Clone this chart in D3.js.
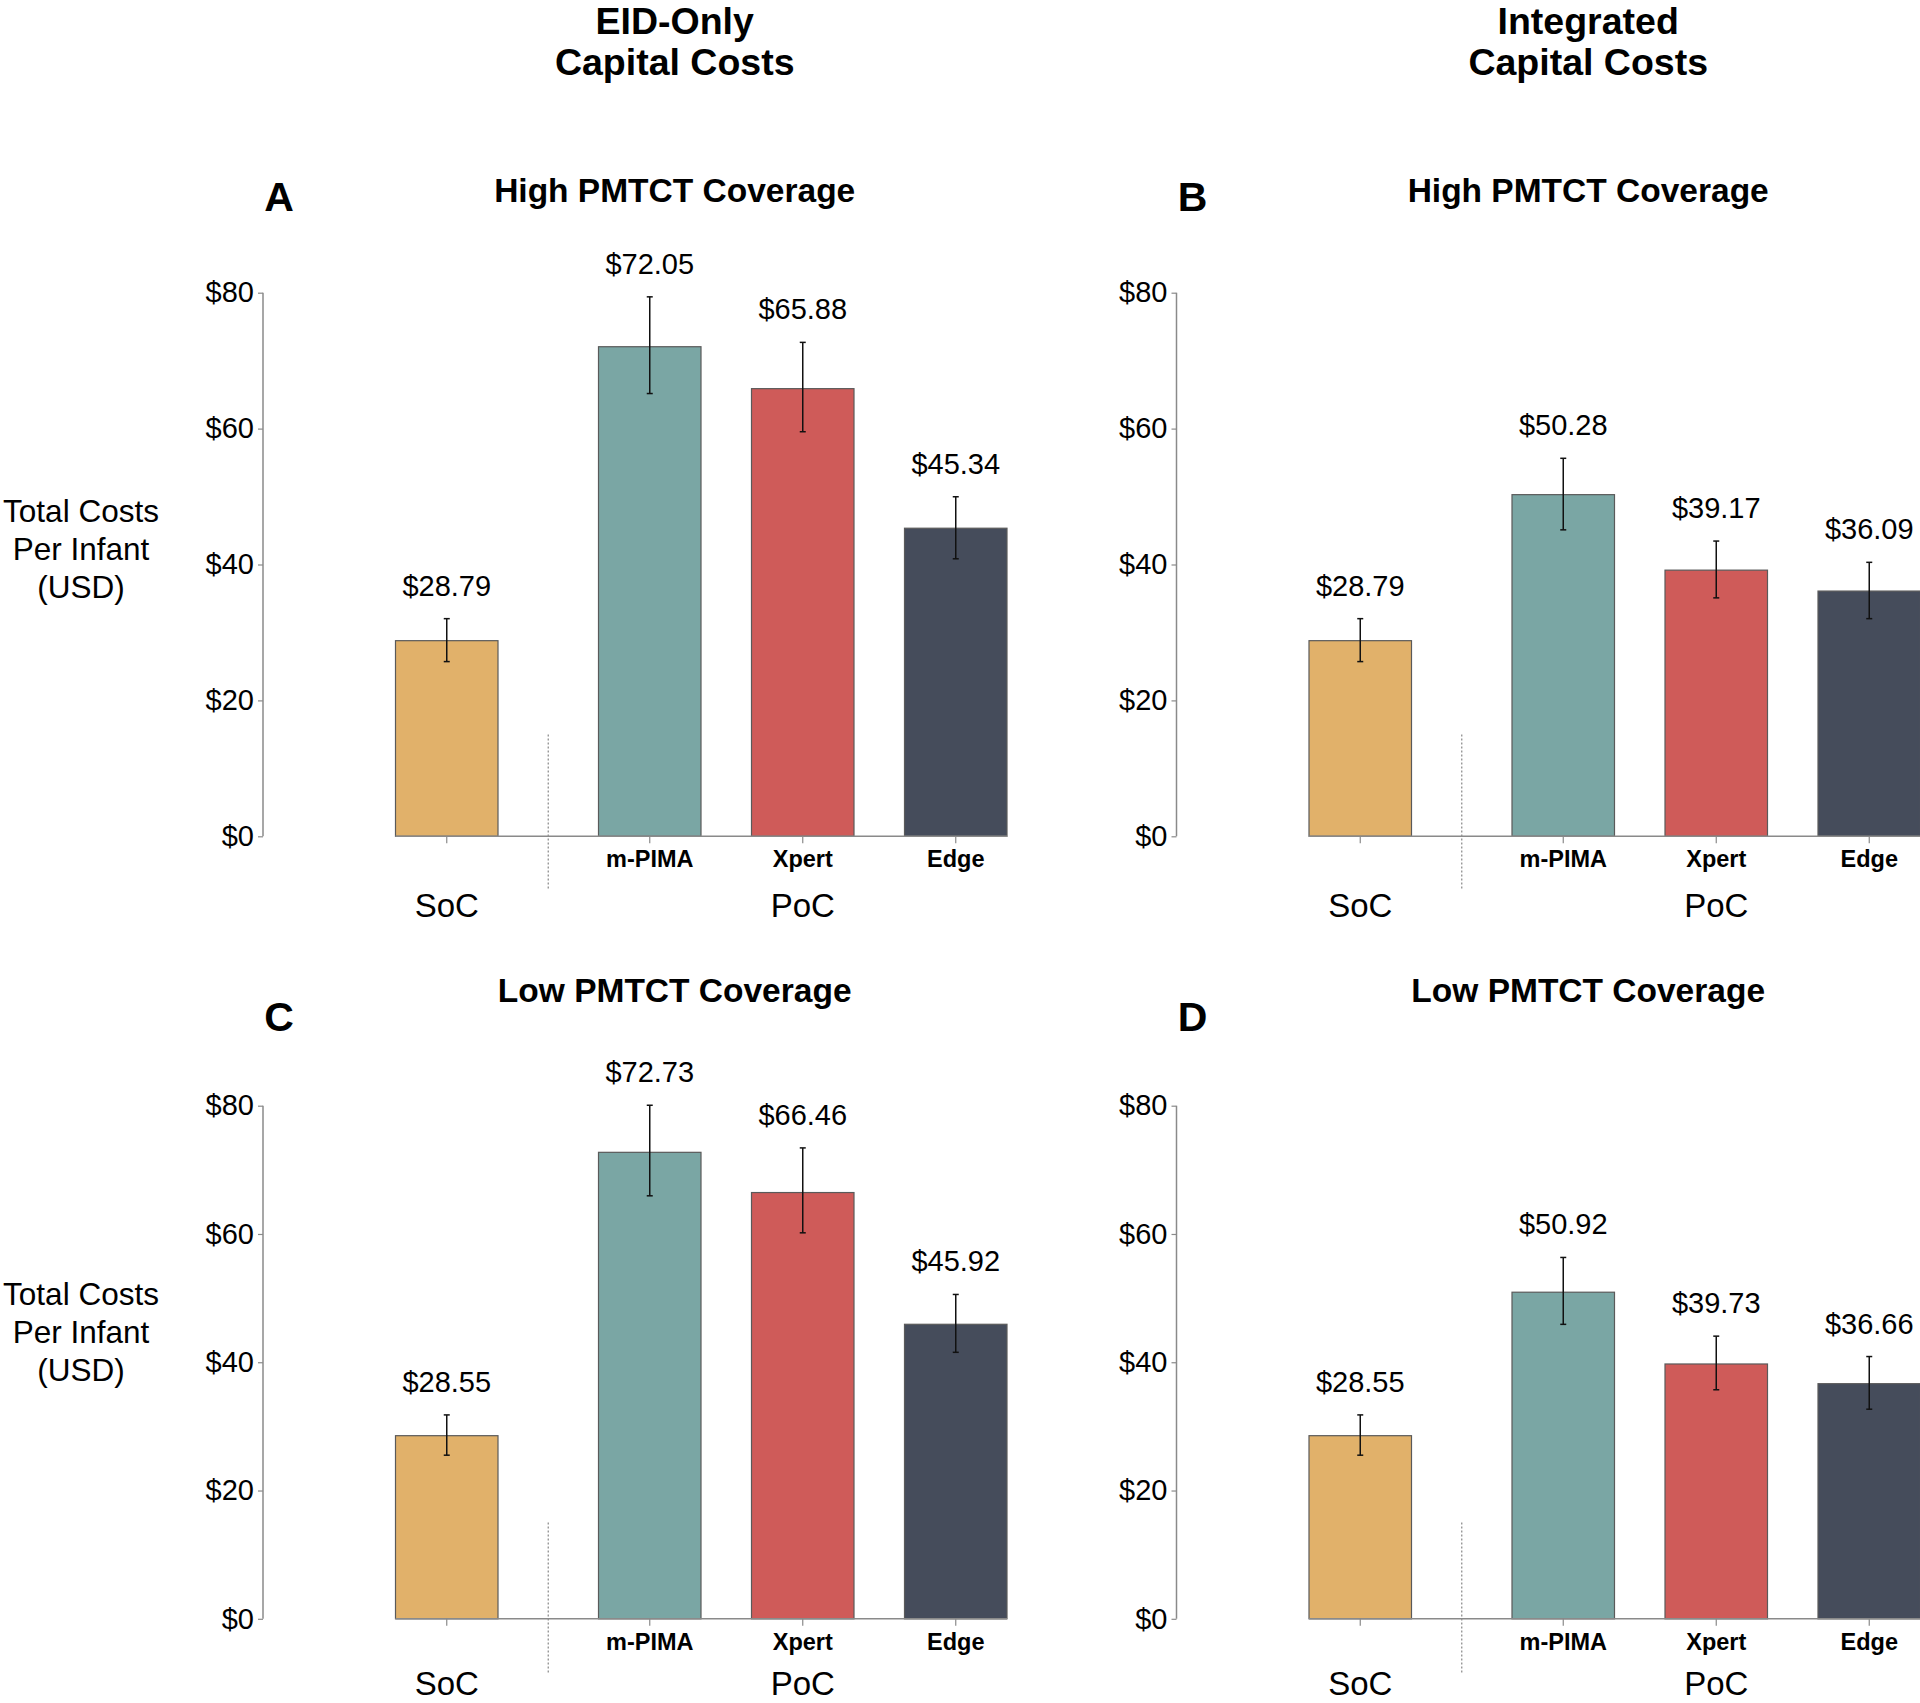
<!DOCTYPE html>
<html>
<head>
<meta charset="utf-8">
<script src="https://cdn.jsdelivr.net/npm/d3@7"></script>
<style>
  html, body { margin: 0; padding: 0; background: #fff; }
  svg { display: block; font-family: "Liberation Sans", Arial, sans-serif; }
</style>
</head>
<body>
<svg id="chart" width="1920" height="1703"></svg>
<script>
// ---- data ----
const categories = ["SoC", "m-PIMA", "Xpert", "Edge"];
const categoryGroups = ["SoC", "PoC", "PoC", "PoC"];
const groupNames = ["SoC", "PoC"];
const barColors = ["#E1B16A", "#7AA6A4", "#CF5B59", "#454C5B"];
const yTicks = [0, 20, 40, 60, 80];
const columnTitles = [["EID-Only", "Capital Costs"], ["Integrated", "Capital Costs"]];
const panelLetters = ["A", "B", "C", "D"];
const panelTitles = ["High PMTCT Coverage", "High PMTCT Coverage", "Low PMTCT Coverage", "Low PMTCT Coverage"];
const yAxisLabel = ["Total Costs", "Per Infant", "(USD)"];

const valuesA = [28.79, 72.05, 65.88, 45.34];
const lowA    = [25.71, 65.16, 59.54, 40.84];
const highA   = [32.03, 79.39, 72.69, 49.97];

const valuesB = [28.79, 50.28, 39.17, 36.09];
const lowB    = [25.71, 45.10, 35.09, 32.03];
const highB   = [32.03, 55.63, 43.45, 40.32];

const valuesC = [28.55, 72.73, 66.46, 45.92];
const lowC    = [25.51, 65.95, 60.18, 41.55];
const highC   = [31.79, 80.07, 73.42, 50.57];

const valuesD = [28.55, 50.92, 39.73, 36.66];
const lowD    = [25.51, 45.91, 35.71, 32.68];
const highD   = [31.79, 56.34, 44.07, 40.89];

const panelData = [
  {values: valuesA, low: lowA, high: highA},
  {values: valuesB, low: lowB, high: highB},
  {values: valuesC, low: lowC, high: highC},
  {values: valuesD, low: lowD, high: highD}
];

// ---- layout ----
const svg = d3.select("#chart");
const colX = [263, 1176.5];
const rowY = [{top: 292.7, bottom: 836.3}, {top: 1105.7, bottom: 1618.8}];
const axisColor = "#8a8a8a";

// column titles
columnTitles.forEach((lines, ci) => {
  const t = svg.append("text")
    .attr("x", colX[ci] + 411.7)
    .attr("text-anchor", "middle")
    .attr("font-size", 37.5)
    .attr("font-weight", "bold")
    .attr("fill", "#000");
  lines.forEach((ln, i) => {
    t.append("tspan").attr("x", colX[ci] + 411.7).attr("y", 34 + i * 41).text(ln);
  });
});

panelData.forEach((pd, pi) => {
  const ci = pi % 2, ri = Math.floor(pi / 2);
  const ax = colX[ci];
  const {top, bottom} = rowY[ri];
  const g = svg.append("g");

  const y = d3.scaleLinear().domain([0, 80]).range([bottom, top]);

  const barStart = ax + 132.5;
  const groupGap = 50;
  const xb = d3.scaleBand().domain(categories)
    .range([barStart, barStart + 4 * 102.5 + 3 * 50.5])
    .paddingInner(50.5 / 153).paddingOuter(0);
  const xPos = (c, i) => xb(c) + (categoryGroups[i] === "PoC" ? groupGap : 0);
  const bw = xb.bandwidth();

  // y axis
  const yAxis = d3.axisLeft(y).tickValues(yTicks).tickSize(5).tickPadding(4)
    .tickFormat(d => "$" + d);
  const yg = g.append("g").attr("transform", `translate(${ax},0)`).call(yAxis);
  yg.select(".domain").attr("stroke", axisColor).attr("stroke-width", 1.5).attr("d", `M0,${bottom}V${top}`);
  yg.selectAll(".tick line").attr("stroke", axisColor).attr("stroke-width", 1.2);
  yg.selectAll(".tick text").attr("font-size", 29).attr("fill", "#000")
    .attr("font-family", "Liberation Sans, Arial, sans-serif");

  // y axis label (left column)
  if (ci === 0) {
    const t = g.append("text").attr("text-anchor", "middle").attr("font-size", 31.5).attr("fill", "#000");
    yAxisLabel.forEach((ln, i) => {
      t.append("tspan").attr("x", 81).attr("y", (ri === 0 ? 522 : 1305) + i * 38).text(ln);
    });
  }

  // panel letter & title
  g.append("text").attr("x", ax + 16).attr("y", (ri === 0 ? 211 : 1031))
    .attr("text-anchor", "middle").attr("font-size", 41).attr("font-weight", "bold").text(panelLetters[pi]);
  g.append("text").attr("x", ax + 411.7).attr("y", (ri === 0 ? 202 : 1002))
    .attr("text-anchor", "middle").attr("font-size", 33.5).attr("font-weight", "bold").text(panelTitles[pi]);

  // bars
  const lastRight = xPos(categories[3], 3) + bw;
  g.selectAll("rect.bar").data(categories).enter().append("rect")
    .attr("class", "bar")
    .attr("x", (c, i) => xPos(c, i))
    .attr("y", (c, i) => y(pd.values[i]))
    .attr("width", bw)
    .attr("height", (c, i) => y(0) - y(pd.values[i]))
    .attr("fill", (c, i) => barColors[i])
    .attr("stroke", "#5a5a5a")
    .attr("stroke-width", 1.2);

  // x axis baseline
  g.append("line").attr("x1", barStart).attr("x2", lastRight)
    .attr("y1", y(0)).attr("y2", y(0)).attr("stroke", axisColor).attr("stroke-width", 1.5);

  // x ticks
  g.selectAll("line.xtick").data(categories).enter().append("line")
    .attr("class", "xtick")
    .attr("x1", (c, i) => xPos(c, i) + bw / 2).attr("x2", (c, i) => xPos(c, i) + bw / 2)
    .attr("y1", y(0)).attr("y2", y(0) + 7)
    .attr("stroke", axisColor).attr("stroke-width", 1.2);

  // separator dotted line
  const sepX = (xPos(categories[0], 0) + bw + xPos(categories[1], 1)) / 2;
  g.append("line").attr("x1", sepX).attr("x2", sepX)
    .attr("y1", y(15)).attr("y2", y(0) + 54)
    .attr("stroke", "#8f8f8f").attr("stroke-width", 1.3).attr("stroke-dasharray", "2,2");

  // error bars
  const eb = g.selectAll("g.err").data(categories).enter().append("g").attr("class", "err");
  eb.append("line")
    .attr("x1", (c, i) => xPos(c, i) + bw / 2).attr("x2", (c, i) => xPos(c, i) + bw / 2)
    .attr("y1", (c, i) => y(pd.low[i])).attr("y2", (c, i) => y(pd.high[i]))
    .attr("stroke", "#111").attr("stroke-width", 1.5);
  ["low", "high"].forEach(k => {
    eb.append("line")
      .attr("x1", (c, i) => xPos(c, i) + bw / 2 - 3).attr("x2", (c, i) => xPos(c, i) + bw / 2 + 3)
      .attr("y1", (c, i) => y(pd[k][i])).attr("y2", (c, i) => y(pd[k][i]))
      .attr("stroke", "#111").attr("stroke-width", 1.5);
  });

  // value labels
  g.selectAll("text.val").data(categories).enter().append("text")
    .attr("class", "val")
    .attr("x", (c, i) => xPos(c, i) + bw / 2)
    .attr("y", (c, i) => y(pd.high[i]) - 23)
    .attr("text-anchor", "middle").attr("font-size", 29).attr("fill", "#000")
    .text((c, i) => "$" + pd.values[i].toFixed(2));

  // category labels (PoC items)
  g.selectAll("text.cat").data(categories).enter()
    .filter((c, i) => categoryGroups[i] === "PoC")
    .append("text").attr("class", "cat")
    .attr("x", c => xPos(c, categories.indexOf(c)) + bw / 2)
    .attr("y", y(0) + 31)
    .attr("text-anchor", "middle").attr("font-size", 23.5).attr("font-weight", "bold").attr("fill", "#000")
    .text(c => c);

  // group labels
  groupNames.forEach(gn => {
    const idx = categories.map((c, i) => i).filter(i => categoryGroups[i] === gn);
    const cx = d3.mean(idx, i => xPos(categories[i], i) + bw / 2);
    g.append("text").attr("x", cx).attr("y", y(0) + (ri === 0 ? 81 : 76.5))
      .attr("text-anchor", "middle").attr("font-size", 33).attr("fill", "#000").text(gn);
  });
});
</script>
</body>
</html>
